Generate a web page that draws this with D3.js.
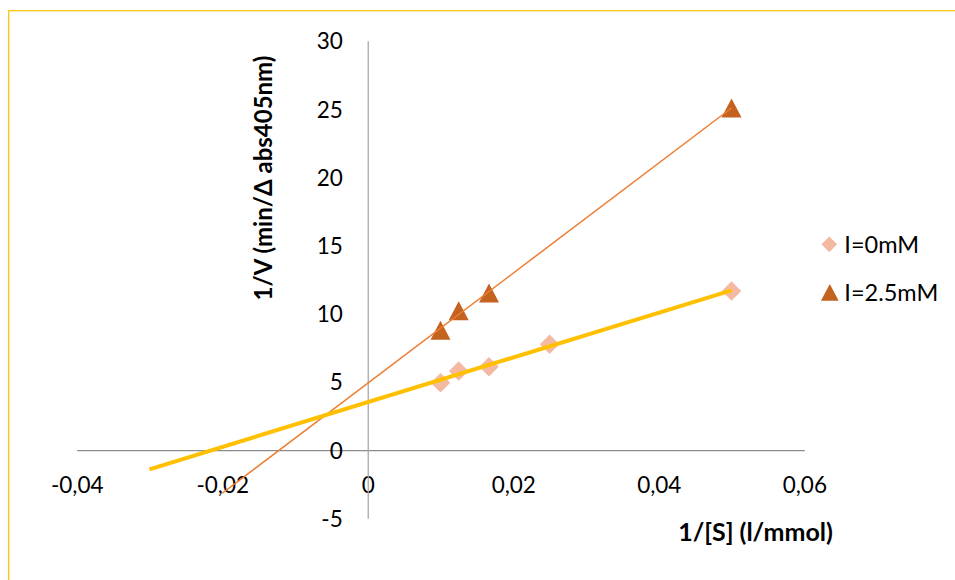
<!DOCTYPE html>
<html>
<head>
<meta charset="utf-8">
<script src="https://cdn.jsdelivr.net/npm/d3@7"></script>
<style>
  html, body { margin: 0; padding: 0; background: #fff; }
  svg { display: block; }
  text { font-family: Lato, "Open Sans", sans-serif; fill: #000; }
</style>
</head>
<body>
<svg id="chart" width="955" height="580"></svg>
<script>
// ---- data ----
const seriesNames = ["I=0mM", "I=2.5mM"];
const xI0 = [0.01, 0.0125, 0.01667, 0.025, 0.05];
const yI0 = [4.94, 5.80, 6.11, 7.75, 11.66];
const xI25 = [0.01, 0.0125, 0.01667, 0.05];
const yI25 = [8.78, 10.21, 11.51, 25.07];
const trendStartI0 = -0.03;   // trendline forecast backward
const trendStartI25 = -0.02;
const trendEnd = 0.05;
const xTicks = [-0.04, -0.02, 0, 0.02, 0.04, 0.06];
const yTicks = [-5, 0, 5, 10, 15, 20, 25, 30];
const xTitle = "1/[S] (l/mmol)";
const yTitle = "1/V (min/Δ abs405nm)";

// ---- layout ----
const svg = d3.select("#chart");
const x = d3.scaleLinear().domain([-0.04, 0.06]).range([76.7, 804.3]);
const y = d3.scaleLinear().domain([-5, 30]).range([518.3, 40.7]);

const colI0 = "#F4B9A3", colI25 = "#C4621F";
const lineI0 = "#FFC000", lineI25 = "#ED7D31";

// outer border (only top and left visible)
svg.append("rect").attr("x", 8.7).attr("y", 10.7).attr("width", 1200).attr("height", 1200)
  .attr("fill", "none").attr("stroke", "#FFC000").attr("stroke-width", 1.2);

const loc = d3.formatLocale({decimal: ",", thousands: ".", grouping: [3], currency: ["", "€"], minus: "-"});
const fx = loc.format(".2~f");
const fy = loc.format("d");

// x axis
const gx = svg.append("g").attr("transform", `translate(0,${y(0)})`)
  .call(d3.axisBottom(x).tickValues(xTicks).tickFormat(fx).tickSize(0).tickSizeOuter(0));
gx.select(".domain").attr("stroke", "#8c8c8c").attr("stroke-width", 1.3);
gx.selectAll(".tick text").attr("y", 42.6).attr("dy", 0)
  .style("font-family", "Lato, sans-serif").style("font-size", "22.5px").attr("fill", "#000");

// y axis
const gy = svg.append("g").attr("transform", `translate(${x(0)},0)`)
  .call(d3.axisLeft(y).tickValues(yTicks).tickFormat(fy).tickSize(0).tickSizeOuter(0).tickPadding(25));
gy.select(".domain").attr("stroke", "#a8a8a8").attr("stroke-width", 1.3);
gy.selectAll(".tick text").attr("dy", "0.36em")
  .style("font-family", "Lato, sans-serif").style("font-size", "22.5px").attr("fill", "#000");

// titles
svg.append("text").attr("x", 755.5).attr("y", 540.7).attr("text-anchor", "middle")
  .style("font-size", "25px").style("font-weight", "bold").text(xTitle);
svg.append("text").attr("transform", "translate(272,178) rotate(-90)").attr("text-anchor", "middle")
  .style("font-size", "24px").style("font-weight", "bold").text(yTitle);

// symbols
const diamond = {
  draw(ctx, size) { const r = Math.sqrt(size) / 2 * Math.SQRT2;
    ctx.moveTo(0, -r); ctx.lineTo(r, 0); ctx.lineTo(0, r); ctx.lineTo(-r, 0); ctx.closePath(); }
};
const triangle = {
  draw(ctx, size) { const w = Math.sqrt(size); const h = w * 0.95;
    ctx.moveTo(0, -h / 2); ctx.lineTo(w / 2, h / 2); ctx.lineTo(-w / 2, h / 2); ctx.closePath(); }
};

// markers
svg.append("g").selectAll("path").data(d3.zip(xI0, yI0)).join("path")
  .attr("transform", d => `translate(${x(d[0])},${y(d[1])})`)
  .attr("d", d3.symbol(diamond, 190)).attr("fill", colI0);
svg.append("g").selectAll("path").data(d3.zip(xI25, yI25)).join("path")
  .attr("transform", d => `translate(${x(d[0])},${y(d[1])})`)
  .attr("d", d3.symbol(triangle, 400)).attr("fill", colI25);

// linear trendlines (least squares)
function fit(xs, ys) {
  const mx = d3.mean(xs), my = d3.mean(ys);
  const sxy = d3.sum(xs, (v, i) => (v - mx) * (ys[i] - my));
  const sxx = d3.sum(xs, v => (v - mx) ** 2);
  const b = sxy / sxx; return {b, a: my - b * mx};
}
const f0 = fit(xI0, yI0), f25 = fit(xI25, yI25);
const line = d3.line().x(d => x(d[0])).y(d => y(d[1]));
svg.append("path").attr("d", line([[trendStartI25, f25.a + f25.b * trendStartI25], [trendEnd, f25.a + f25.b * trendEnd]]))
  .attr("stroke", lineI25).attr("stroke-width", 1.5).attr("fill", "none");
svg.append("path").attr("d", line([[trendStartI0, f0.a + f0.b * trendStartI0], [trendEnd, f0.a + f0.b * trendEnd]]))
  .attr("stroke", lineI0).attr("stroke-width", 4).attr("fill", "none");

// legend
const leg = svg.append("g");
leg.append("path").attr("transform", "translate(829.3,244.3)").attr("d", d3.symbol(diamond, 123)).attr("fill", colI0);
leg.append("path").attr("transform", "translate(829.8,292.3)").attr("d", d3.symbol(triangle, 313)).attr("fill", colI25);
leg.selectAll("text").data(seriesNames).join("text")
  .attr("x", 844.3).attr("y", (d, i) => i === 0 ? 252.5 : 300.5)
  .style("font-size", "23.5px").text(d => d);
</script>
</body>
</html>
